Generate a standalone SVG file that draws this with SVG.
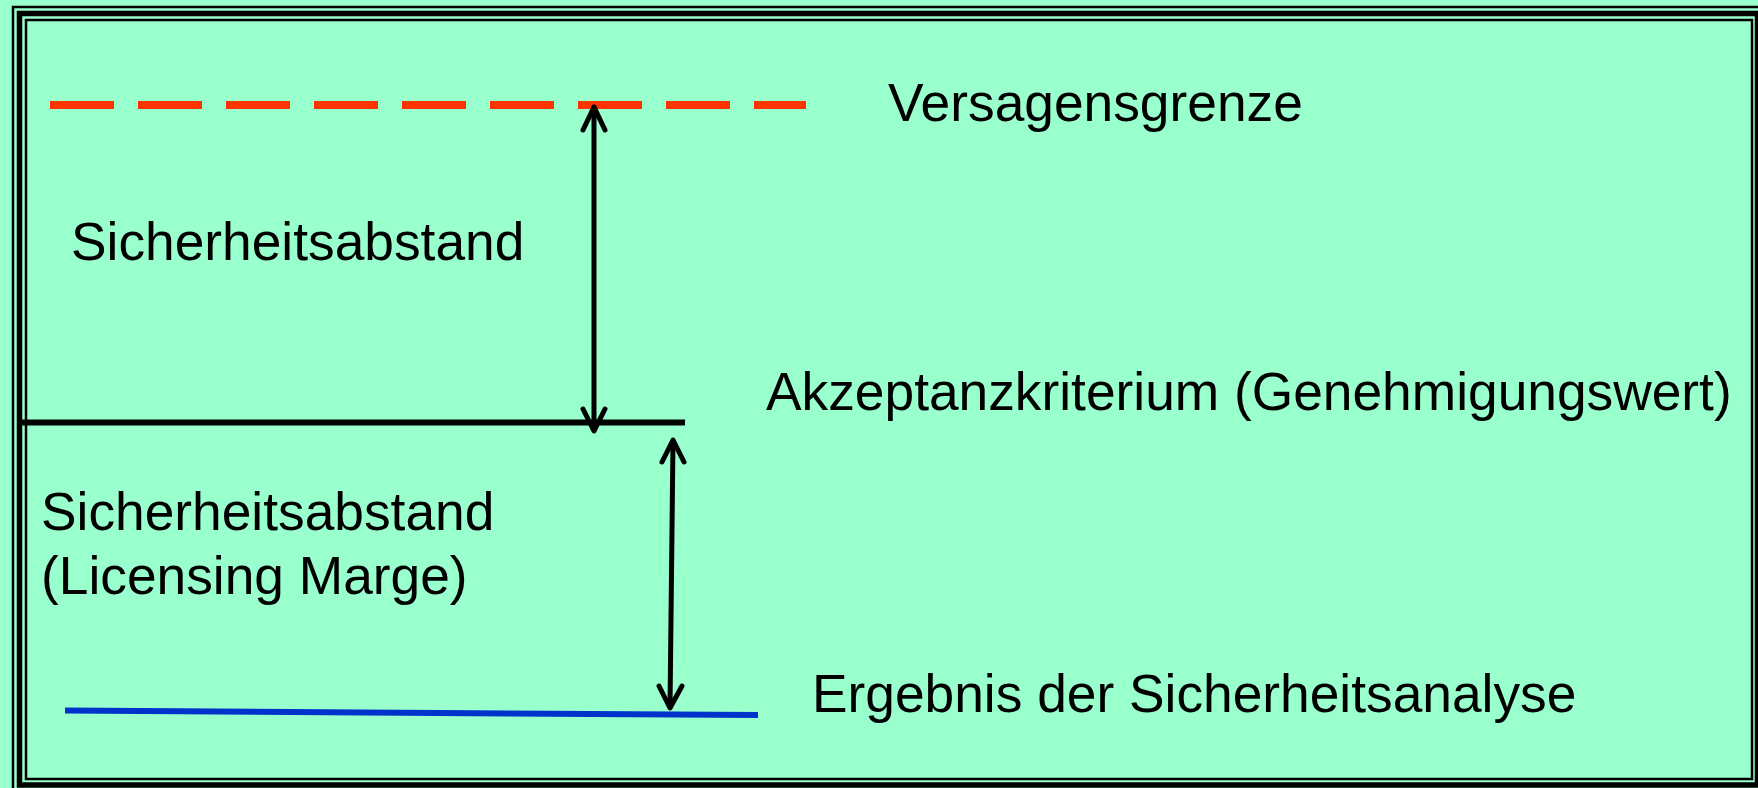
<svg xmlns="http://www.w3.org/2000/svg" width="1758" height="788" viewBox="0 0 1758 788">
  <style>
    .lbl { font-family: "Liberation Sans", Arial, Helvetica, sans-serif; font-size: 53.3px; fill: #000000; }
    .frame { fill: none; stroke: #000000; }
    .arrow { fill: none; stroke: #000000; stroke-width: 5; stroke-linecap: round; stroke-linejoin: round; }
  </style>

  <!-- page background -->
  <rect x="0" y="0" width="1758" height="788" fill="#99FFCC"/>

  <!-- triple page border -->
  <g id="border">
    <rect class="frame" x="13" y="7" width="1752" height="790" stroke-width="2.5"/>
    <rect class="frame" x="19.5" y="13.5" width="1738" height="771.5" stroke-width="5.5"/>
    <rect class="frame" x="26" y="20" width="1726" height="759" stroke-width="2.5"/>
  </g>

  <!-- limit lines -->
  <g id="versagensgrenze">
    <line x1="50" y1="105" x2="806" y2="105" stroke="#FF3300" stroke-width="8" stroke-dasharray="64 24"/>
    <text class="lbl" x="888" y="121">Versagensgrenze</text>
  </g>

  <g id="akzeptanzkriterium">
    <line x1="19" y1="422.5" x2="685" y2="422.5" stroke="#000000" stroke-width="6"/>
    <text class="lbl" x="766" y="410">Akzeptanzkriterium (Genehmigungswert)</text>
  </g>

  <g id="ergebnis">
    <line x1="65" y1="710.5" x2="758" y2="715" stroke="#0033CC" stroke-width="6"/>
    <text class="lbl" x="812" y="712">Ergebnis der Sicherheitsanalyse</text>
  </g>

  <g id="sicherheitsabstand">
    <text class="lbl" x="71" y="260">Sicherheitsabstand</text>
  </g>

  <g id="licensing-marge">
    <text class="lbl" x="41" y="530">Sicherheitsabstand</text>
    <text class="lbl" x="41" y="594">(Licensing Marge)</text>
  </g>

  <!-- double-headed margin arrows -->
  <g id="connectors">
    <line class="arrow" x1="594" y1="107" x2="594" y2="430"/>
    <polyline class="arrow" points="583,130 594,107 605,130"/>
    <polyline class="arrow" points="583,409 594,431 605,409"/>

    <line class="arrow" x1="673" y1="441" x2="670" y2="707"/>
    <polyline class="arrow" points="662,462 673,440 684,462"/>
    <polyline class="arrow" points="659,686 670,708 682,686"/>
  </g>
</svg>
